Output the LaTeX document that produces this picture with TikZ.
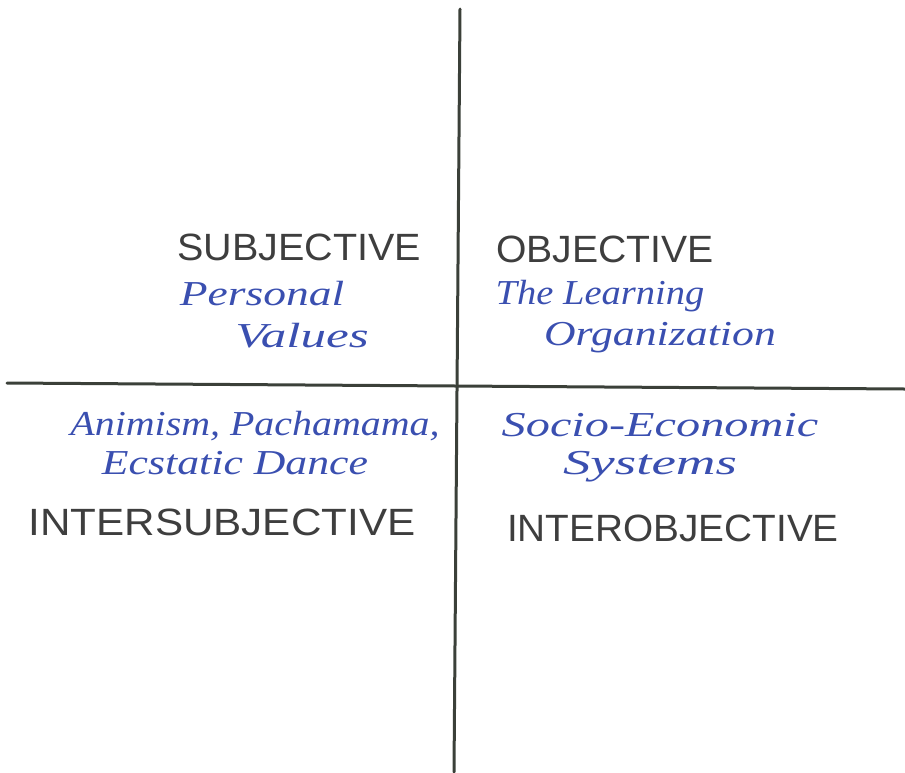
\documentclass[tikz,border=0pt]{standalone}
\usepackage{graphicx}
\usepackage{fontspec}
\newfontfamily\capsfont{Liberation Sans}
\newfontfamily\handfont{Liberation Serif}
\definecolor{axisgray}{HTML}{3B4039}
\definecolor{penblue}{HTML}{3A4FB0}
\definecolor{capgray}{HTML}{3E3E3E}
\newcommand{\hsc}[2]{\scalebox{#1}[1]{#2}}
\begin{document}
\begin{tikzpicture}[x=1pt,y=-1pt,
  axis/.style={draw=axisgray,line width=3pt,line cap=round},
  caplabel/.style={text=capgray,font=\capsfont\fontsize{38}{42}\selectfont,inner sep=0pt},
  handlabel/.style={text=penblue,font=\handfont\itshape\fontsize{35}{38}\selectfont,inner sep=0pt}]
\useasboundingbox (0,0) rectangle (905,772);
\coordinate (vtop) at (460,9);
\coordinate (vbot) at (454,772);
\coordinate (hleft) at (7,383);
\coordinate (hright) at (905,389);
\draw[axis] (vtop) -- (vbot);
\draw[axis] (hleft) -- (hright);
\node[caplabel] (subj) at (299,247) {\hsc{1.04}{SUBJECTIVE}};
\node[handlabel] (pers) at (262,294) {\hsc{1.3}{Personal}};
\node[handlabel] (vals) at (302,336) {\hsc{1.46}{Values}};
\node[caplabel] (obj) at (605,249) {\hsc{1.03}{OBJECTIVE}};
\node[handlabel] (learn) at (600,296) {\hsc{1.1}{The Learning}};
\node[handlabel] (org) at (660,338) {\hsc{1.25}{Organization}};
\node[handlabel] (anim) at (255,426) {\hsc{1.14}{Animism, Pachamama,}};
\node[handlabel] (ecst) at (235,463) {\hsc{1.25}{Ecstatic Dance}};
\node[caplabel] (isubj) at (222,522) {\hsc{1.11}{INTERSUBJECTIVE}};
\node[handlabel] (socio) at (660,425) {\hsc{1.38}{Socio-Economic}};
\node[handlabel] (sys) at (650,467) {\hsc{1.57}{Systems}};
\node[caplabel] (iobj) at (673,528) {\hsc{1.02}{INTEROBJECTIVE}};
\end{tikzpicture}
\end{document}
